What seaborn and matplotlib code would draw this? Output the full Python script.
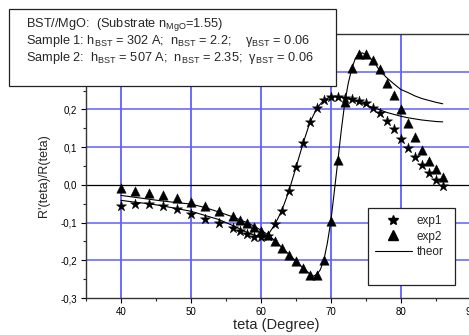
import matplotlib
matplotlib.use("Agg")
import matplotlib.pyplot as plt
import matplotlib.ticker as mticker
from matplotlib.lines import Line2D
from matplotlib.patches import Rectangle
import numpy as np
import pandas as pd
import seaborn as sns

# ---- measured reflectance derivative, two BST films on MgO ----
theta_exp = [40, 42, 44, 46, 48, 50, 52, 54, 56, 57, 58, 59, 60, 61, 62, 63, 64,
             65, 66, 67, 68, 69, 70, 71, 72, 73, 74, 75, 76, 77, 78, 79, 80, 81,
             82, 83, 84, 85, 86]
r_exp1 = [-0.057, -0.050, -0.051, -0.055, -0.064, -0.077, -0.090, -0.101, -0.114,
          -0.123, -0.130, -0.138, -0.138, -0.135, -0.104, -0.068, -0.015, 0.047,
          0.112, 0.167, 0.204, 0.224, 0.233, 0.233, 0.229, 0.227, 0.222, 0.216,
          0.203, 0.190, 0.169, 0.149, 0.122, 0.098, 0.074, 0.052, 0.032, 0.014,
          -0.002]
r_exp2 = [-0.008, -0.015, -0.021, -0.028, -0.036, -0.046, -0.057, -0.070, -0.082,
          -0.092, -0.101, -0.112, -0.123, -0.134, -0.150, -0.168, -0.185, -0.201,
          -0.221, -0.239, -0.239, -0.200, -0.097, 0.065, 0.220, 0.309, 0.347, 0.347,
          0.332, 0.307, 0.271, 0.238, 0.200, 0.163, 0.127, 0.092, 0.063, 0.041,
          0.020]

# ---- theoretical curves ----
theta_th1 = [40, 42, 44, 46, 48, 50, 52, 54, 56, 58, 59, 60, 60.5, 61, 62, 63, 64,
             65, 66, 67, 68, 69, 70, 71, 72, 73, 74, 75, 76, 77, 78, 79, 80, 81,
             82, 83, 84, 85, 86]
r_th1 = [-0.041, -0.046, -0.050, -0.056, -0.063, -0.070, -0.081, -0.092, -0.108,
         -0.126, -0.133, -0.138, -0.139, -0.133, -0.105, -0.068, -0.017, 0.045,
         0.108, 0.165, 0.203, 0.225, 0.234, 0.234, 0.230, 0.225, 0.219, 0.212,
         0.205, 0.199, 0.192, 0.187, 0.182, 0.178, 0.175, 0.172, 0.170, 0.168,
         0.167]
theta_th2 = [40, 42, 44, 46, 48, 50, 52, 54, 56, 58, 59, 60, 61, 62, 63, 64, 65,
             66, 67, 67.5, 68, 68.5, 69, 69.5, 70, 70.5, 71, 71.5, 72, 72.5, 73,
             73.5, 74, 74.5, 75, 76, 77, 78, 79, 80, 81, 82, 83, 84, 85, 86]
r_th2 = [-0.028, -0.033, -0.038, -0.043, -0.047, -0.051, -0.060, -0.072, -0.085,
         -0.100, -0.109, -0.120, -0.132, -0.148, -0.166, -0.184, -0.202, -0.220,
         -0.236, -0.242, -0.238, -0.225, -0.200, -0.155, -0.097, -0.018, 0.063,
         0.145, 0.218, 0.270, 0.308, 0.335, 0.347, 0.350, 0.345, 0.330, 0.303,
         0.284, 0.268, 0.253, 0.245, 0.236, 0.229, 0.224, 0.219, 0.215]

x_ticks = [40, 50, 60, 70, 80, 90]
y_ticks = [-0.3, -0.2, -0.1, 0.0, 0.1, 0.2, 0.3, 0.4]
legend_labels = ["exp1", "exp2", "theor"]

info_lines = [
    r"BST//MgO:  (Substrate n$_{\mathrm{MgO}}$=1.55)",
    r"Sample 1: h$_{\mathrm{BST}}$ = 302 A;  n$_{\mathrm{BST}}$ = 2.2;    γ$_{\mathrm{BST}}$ = 0.06",
    r"Sample 2:  h$_{\mathrm{BST}}$ = 507 A;  n$_{\mathrm{BST}}$ = 2.35;  γ$_{\mathrm{BST}}$ = 0.06",
]

df_exp1 = pd.DataFrame({"teta": theta_exp, "r": r_exp1})
df_exp2 = pd.DataFrame({"teta": theta_exp, "r": r_exp2})
df_th1 = pd.DataFrame({"teta": theta_th1, "r": r_th1})
df_th2 = pd.DataFrame({"teta": theta_th2, "r": r_th2})

sns.set_style("ticks")
plt.rcParams["font.family"] = ["Liberation Sans", "DejaVu Sans"]
plt.rcParams["mathtext.fontset"] = "custom"
plt.rcParams["mathtext.rm"] = "Liberation Sans"
plt.rcParams["mathtext.it"] = "Liberation Sans:italic"

W, H = 469, 335
fig = plt.figure(figsize=(W / 100, H / 100), dpi=100)
fig.patch.set_facecolor("white")


def px_box(x0, y0, x1, y1):
    return (x0 / W, 1 - y1 / H, (x1 - x0) / W, (y1 - y0) / H)


ax = fig.add_axes(px_box(86, 34, 470.7, 298))
ax.set_facecolor("white")

grid_blue = "#5f5fff"
for xv in [40, 50, 60, 70, 80]:
    ax.axvline(xv, color=grid_blue, lw=1.3, zorder=0)
for yv in [-0.2, -0.1, 0.1, 0.2, 0.3]:
    ax.axhline(yv, color=grid_blue, lw=1.1, zorder=0)
ax.axhline(0.0, color="black", lw=0.9, zorder=0)

sns.lineplot(data=df_th1, x="teta", y="r", ax=ax, color="black", lw=0.8,
             estimator=None, sort=True, zorder=2)
sns.lineplot(data=df_th2, x="teta", y="r", ax=ax, color="black", lw=0.8,
             estimator=None, sort=True, zorder=2)
sns.scatterplot(data=df_exp1, x="teta", y="r", ax=ax, marker="*", s=60,
                color="black", edgecolor="black", linewidth=0.3, zorder=3)
sns.scatterplot(data=df_exp2, x="teta", y="r", ax=ax, marker="^", s=46,
                color="black", edgecolor="black", linewidth=0.3, zorder=3)

ax.set_xlim(35, 90)
ax.set_ylim(-0.3, 0.4)
ax.set_xticks(x_ticks)
ax.set_yticks(y_ticks)
ax.xaxis.set_minor_locator(mticker.MultipleLocator(5))
ax.yaxis.set_minor_locator(mticker.MultipleLocator(0.05))


def comma_fmt(v, pos):
    # labels above 0,25 sit under the information box
    if v > 0.25:
        return ""
    if abs(v) < 1e-9:
        v = 0.0
    return f"{v:.1f}".replace(".", ",")


ax.yaxis.set_major_formatter(mticker.FuncFormatter(comma_fmt))
ax.tick_params(axis="both", which="major", direction="out", length=3.5, width=0.8,
               labelsize=7, pad=3, colors="black")
ax.tick_params(axis="both", which="minor", direction="out", length=2, width=0.8)

for side in ["left", "bottom", "top"]:
    ax.spines[side].set_color("#333333")
    ax.spines[side].set_linewidth(1.0)
ax.spines["right"].set_visible(False)

ax.set_xlabel("teta (Degree)", fontsize=10.5)
ax.set_ylabel("R'(teta)/R(teta)", fontsize=9)
ax.xaxis.set_label_coords(0.494, -0.075)
ax.yaxis.set_label_coords(-0.094, 0.462)

# Information box over the upper-left part of the axes
fig.add_artist(Rectangle(px_box(9, 9, 336, 86)[:2], 327 / W, 77 / H,
                         transform=fig.transFigure, facecolor="white",
                         edgecolor="#222222", lw=0.9, zorder=10))
for txt, yb in zip(info_lines, [27, 44, 61]):
    fig.text(26 / W, 1 - yb / H, txt, fontsize=9.2, va="baseline", ha="left",
             zorder=11)

# Legend
fig.add_artist(Rectangle(px_box(368, 208, 455, 285)[:2], 87 / W, 77 / H,
                         transform=fig.transFigure, facecolor="white",
                         edgecolor="#222222", lw=0.9, zorder=10))
handles = [
    Line2D([], [], ls="none", marker="*", ms=7.5, color="black"),
    Line2D([], [], ls="none", marker="^", ms=6.5, color="black"),
    Line2D([], [], color="black", lw=0.8),
]
leg = ax.legend(handles, legend_labels, loc="upper left",
                bbox_to_anchor=(375 / W, 1 - 215 / H), bbox_transform=fig.transFigure,
                frameon=False, fontsize=8.5, handlelength=3.1, handletextpad=0.45,
                labelspacing=0.3, borderpad=0, borderaxespad=0)
leg.set_zorder(12)
leg.remove()
fig.add_artist(leg)

fig.savefig("out.png", dpi=100)
